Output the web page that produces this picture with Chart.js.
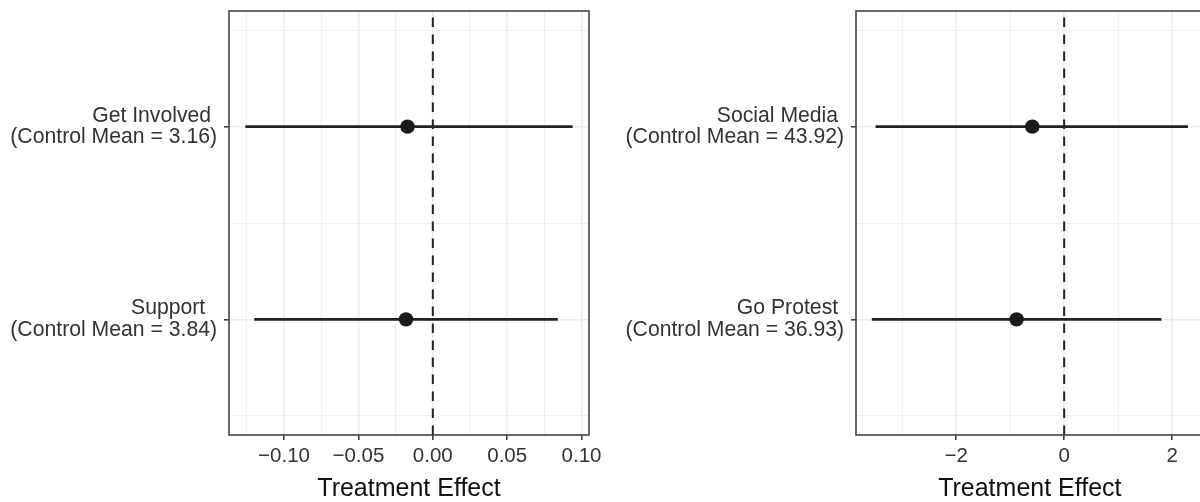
<!DOCTYPE html>
<html><head><meta charset="utf-8">
<script src="https://cdn.jsdelivr.net/npm/chart.js@4.4.1/dist/chart.umd.min.js"></script>
<style>
html,body{margin:0;padding:0;background:#fff;}
#wrap{position:relative;width:1200px;height:502px;overflow:hidden;background:#fff;}
#c1{position:absolute;left:0;top:0;}
#c2{position:absolute;left:600px;top:0;}
</style></head><body>
<div id="wrap"><canvas id="c1" width="620" height="502"></canvas><canvas id="c2" width="620" height="502"></canvas></div>
<script>
// ---- data ----
const leftCategories = [["Get Involved ", "(Control Mean = 3.16)"], ["Support  ", "(Control Mean = 3.84)"]];
const leftEstimates = [-0.017, -0.018];
const leftLower = [-0.126, -0.120];
const leftUpper = [0.094, 0.084];

const rightCategories = [["Social Media ", "(Control Mean = 43.92)"], ["Go Protest ", "(Control Mean = 36.93)"]];
const rightEstimates = [-0.59, -0.88];
const rightLower = [-3.49, -3.56];
const rightUpper = [2.29, 1.80];

const leftMajorTicks = [-0.10, -0.05, 0, 0.05, 0.10];
const leftMajorLabels = ["\u22120.10", "\u22120.05", "0.00", "0.05", "0.10"];
const leftMinorTicks = [-0.125, -0.075, -0.025, 0.025, 0.075];

const rightMajorTicks = [-2, 0, 2];
const rightMajorLabels = ["\u22122", "0", "2"];
const rightMinorTicks = [-3, -1, 1];

const rowPositions = [1, 2];
const rowMinorTicks = [0.5, 1.5, 2.5];
const xTitle = "Treatment Effect";
const referenceValue = 0;

// ---- chart ----
Chart.defaults.font.family = "'Liberation Sans', Arial, Helvetica, sans-serif";

const panelBorder = {
  id: 'panelBorder',
  afterDraw(chart) {
    const {ctx, chartArea: a} = chart;
    ctx.save();
    ctx.strokeStyle = '#444';
    ctx.lineWidth = 1.6;
    ctx.strokeRect(a.left, a.top, a.right - a.left, a.bottom - a.top);
    ctx.restore();
  }
};

function near(list, v) { return list.findIndex(t => Math.abs(t - v) < 1e-9); }

function makeChart(canvasId, cats, est, lo, hi, majT, majL, minT, yAxisWidth, padRight) {
  const dmin = Math.min(...lo), dmax = Math.max(...hi);
  const ext = (dmax - dmin) * 0.05;
  const xmin = dmin - ext, xmax = dmax + ext;
  const ymin = rowPositions[0] - 0.6, ymax = rowPositions[rowPositions.length - 1] + 0.6;

  const datasets = [];
  datasets.push({
    data: est.map((e, i) => ({x: e, y: rowPositions[i]})),
    showLine: false, pointRadius: 7.2, pointHoverRadius: 7.2,
    pointBackgroundColor: '#1a1a1a', pointBorderWidth: 0, order: 0
  });
  datasets.push({
    data: [{x: referenceValue, y: ymax}, {x: referenceValue, y: ymin}],
    showLine: true, pointRadius: 0, borderColor: '#222', borderWidth: 2,
    borderDash: [9.5, 7.5], order: 1
  });
  rowPositions.forEach((r, i) => {
    datasets.push({
      data: [{x: lo[i], y: r}, {x: hi[i], y: r}],
      showLine: true, pointRadius: 0, borderColor: '#222', borderWidth: 2.8, order: 2
    });
  });

  const gridCommon = (major) => ({
    color: '#ebebeb',
    lineWidth: ctx => (ctx.tick && near(major, ctx.tick.value) >= 0) ? 1.6 : 0.8,
    tickColor: ctx => (ctx.tick && near(major, ctx.tick.value) >= 0) ? '#333' : 'rgba(0,0,0,0)',
    tickWidth: 1.5,
    tickLength: 5,
    drawTicks: true
  });

  return new Chart(document.getElementById(canvasId), {
    type: 'scatter',
    data: {datasets},
    options: {
      responsive: false, animation: false,
      layout: {padding: {top: 11, right: padRight, left: 0, bottom: 0}},
      plugins: {legend: {display: false}, tooltip: {enabled: false}},
      scales: {
        x: {
          type: 'linear', position: 'bottom', min: xmin, max: xmax,
          afterBuildTicks: s => { s.ticks = [...majT, ...minT].sort((a, b) => a - b).map(v => ({value: v})); },
          afterFit: s => { s.height = 67; s.paddingLeft = 0; s.paddingRight = 0; },
          grid: gridCommon(majT),
          border: {display: false},
          ticks: {
            autoSkip: false, maxRotation: 0, minRotation: 0, padding: 6, color: '#333',
            font: {size: 20.5, lineHeight: 1},
            callback: v => { const k = near(majT, v); return k >= 0 ? majL[k] : ''; }
          },
          title: {display: true, text: xTitle, color: '#111', font: {size: 25, lineHeight: 1.05}, padding: {top: 0, bottom: 0}}
        },
        y: {
          type: 'linear', position: 'left', reverse: true, min: ymin, max: ymax,
          afterBuildTicks: s => { s.ticks = [...rowPositions, ...rowMinorTicks].sort((a, b) => a - b).map(v => ({value: v})); },
          afterFit: s => { s.width = yAxisWidth; s.paddingTop = 0; s.paddingBottom = 0; },
          grid: gridCommon(rowPositions),
          border: {display: false},
          ticks: {
            autoSkip: false, padding: 7, color: '#333',
            font: {size: 21.2, lineHeight: 1.02},
            callback: v => { const k = near(rowPositions, v); return k >= 0 ? cats[k] : ''; }
          }
        }
      }
    },
    plugins: [panelBorder]
  });
}

makeChart('c1', leftCategories, leftEstimates, leftLower, leftUpper,
  leftMajorTicks, leftMajorLabels, leftMinorTicks, 229, 31);
makeChart('c2', rightCategories, rightEstimates, rightLower, rightUpper,
  rightMajorTicks, rightMajorLabels, rightMinorTicks, 256, 16.3);
</script>
</body></html>
